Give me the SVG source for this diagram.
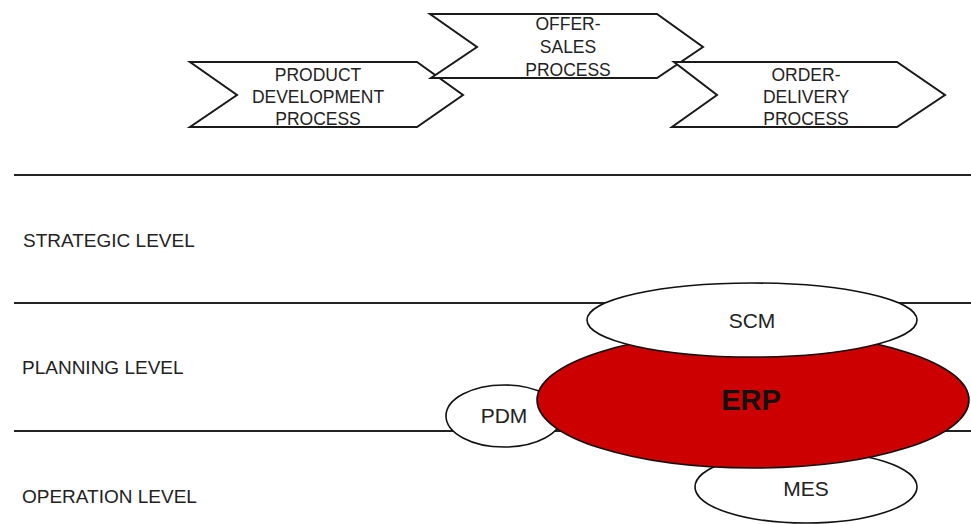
<svg xmlns="http://www.w3.org/2000/svg" width="971" height="524" viewBox="0 0 971 524">
<style>
.bg{fill:#fff}
.proc{fill:#fff;stroke:#1a1a1a;stroke-width:2}
.lvl{stroke:#222;stroke-width:2}
.ell{fill:#fff;stroke:#111;stroke-width:1.6}
.erp{fill:#cc0000;stroke:#111;stroke-width:1.6}
.t{font-family:"Liberation Sans",Arial,sans-serif;font-size:17.5px;fill:#222;text-anchor:middle}
.lt{font-family:"Liberation Sans",Arial,sans-serif;font-size:19px;fill:#222}
.et{font-family:"Liberation Sans",Arial,sans-serif;font-size:21px;fill:#222;text-anchor:middle}
.erpt{font-family:"Liberation Sans",Arial,sans-serif;font-size:29px;font-weight:bold;fill:#111;text-anchor:middle}
</style>
<rect class="bg" x="0" y="0" width="971" height="524"/>
<g id="levels">
<line class="lvl" x1="14" y1="175" x2="971" y2="175"/>
<line class="lvl" x1="14" y1="303" x2="971" y2="303"/>
<line class="lvl" x1="14" y1="431" x2="971" y2="431"/>
<text class="lt" x="23" y="247">STRATEGIC LEVEL</text>
<text class="lt" x="22" y="374">PLANNING LEVEL</text>
<text class="lt" x="22" y="503">OPERATION LEVEL</text>
</g>
<g id="product-development">
<polygon class="proc" points="190,62 417,62 463,95 417,127 190,127 237,95"/>
<text class="t" x="318" y="81">PRODUCT</text>
<text class="t" x="318" y="103">DEVELOPMENT</text>
<text class="t" x="318" y="125">PROCESS</text>
</g>
<g id="offer-sales">
<polygon class="proc" points="430,14 657,14 703,47 657,78 431,78 477,47"/>
<text class="t" x="568" y="30">OFFER-</text>
<text class="t" x="568" y="53">SALES</text>
<text class="t" x="568" y="76">PROCESS</text>
</g>
<g id="order-delivery">
<polygon class="proc" points="674,62 897,62 945,95 897,127 672,127 717,95"/>
<text class="t" x="806" y="81">ORDER-</text>
<text class="t" x="806" y="103">DELIVERY</text>
<text class="t" x="806" y="125">PROCESS</text>
</g>
<g id="connectors"></g>
<g id="pdm">
<ellipse class="ell" cx="504" cy="416" rx="58" ry="31"/>
<text class="et" x="504" y="423">PDM</text>
</g>
<g id="mes">
<ellipse class="ell" cx="806" cy="487" rx="111" ry="36"/>
<text class="et" x="806" y="496">MES</text>
</g>
<g id="erp">
<ellipse class="erp" cx="753" cy="400" rx="216" ry="68"/>
<text class="erpt" x="751" y="410">ERP</text>
</g>
<g id="scm">
<ellipse class="ell" cx="752" cy="320" rx="165" ry="37"/>
<text class="et" x="752" y="328">SCM</text>
</g>
</svg>
